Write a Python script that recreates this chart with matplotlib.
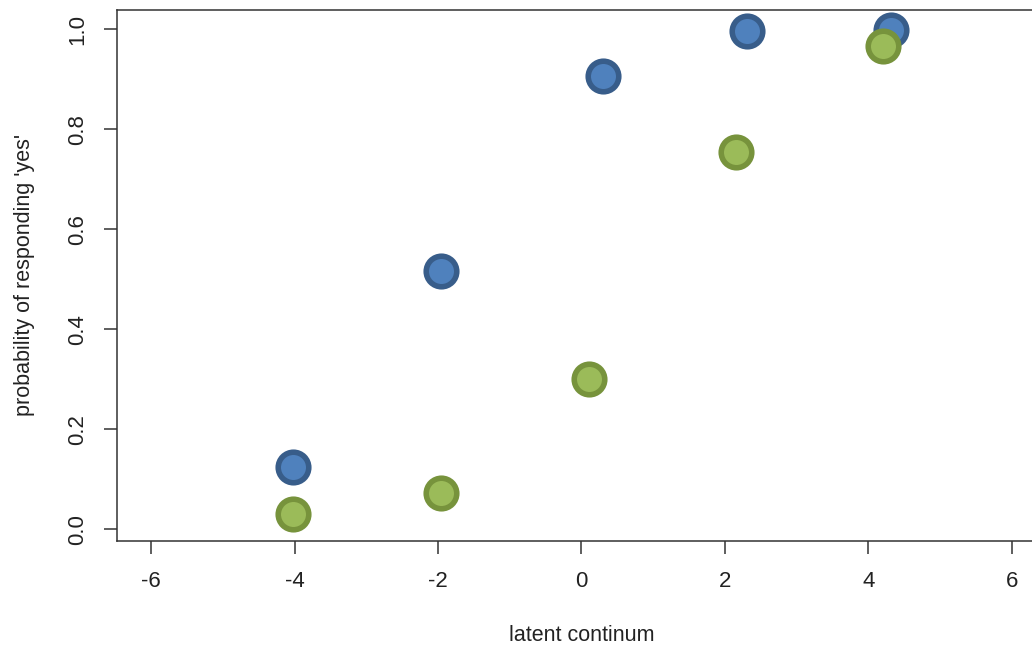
import matplotlib
matplotlib.use("Agg")
import matplotlib.pyplot as plt

plt.rcParams['font.family'] = ['Liberation Sans', 'DejaVu Sans']

# Proportion of 'yes' responses along the latent continuum, two conditions
x_blue = [-4.02, -1.96, 0.30, 2.31, 4.32]
p_blue = [0.124, 0.517, 0.907, 0.997, 0.999]

x_green = [-4.02, -1.96, 0.10, 2.16, 4.21]
p_green = [0.030, 0.072, 0.301, 0.755, 0.967]

x_ticks = [-6, -4, -2, 0, 2, 4, 6]
y_ticks = [0.0, 0.2, 0.4, 0.6, 0.8, 1.0]

fig = plt.figure(figsize=(10.32, 6.48), dpi=100)
ax = fig.add_axes([0.1131, 0.1651, 0.9005, 0.8199])

ax.plot(x_blue, p_blue, linestyle='none', marker='o', markersize=22,
        markerfacecolor='#4F81BD', markeredgecolor='#385D8A', markeredgewidth=4.0,
        zorder=3)
ax.plot(x_green, p_green, linestyle='none', marker='o', markersize=22,
        markerfacecolor='#9BBB59', markeredgecolor='#77933C', markeredgewidth=4.0,
        zorder=4)

ax.set_xlim(-6.48, 6.48)
ax.set_ylim(-0.0234, 1.0395)

ax.set_xticks(x_ticks)
ax.set_xticklabels([str(v) for v in x_ticks])
ax.set_yticks(y_ticks)
ax.set_yticklabels([f"{v:.1f}" for v in y_ticks], rotation=90, va='center')

for s in ax.spines.values():
    s.set_color('#333333')
    s.set_linewidth(1.1)

ax.tick_params(axis='both', direction='out', length=9.5, width=1.1,
               color='#333333', labelsize=16, labelcolor='#222222')
ax.tick_params(axis='x', pad=12)
ax.tick_params(axis='y', pad=11)

ax.set_xlabel('latent continum', fontsize=15.5, color='#222222', labelpad=24)
ax.set_ylabel("probability of responding 'yes'", fontsize=15.5, color='#222222',
              labelpad=23)

fig.savefig('out.png', dpi=100, facecolor='white')
